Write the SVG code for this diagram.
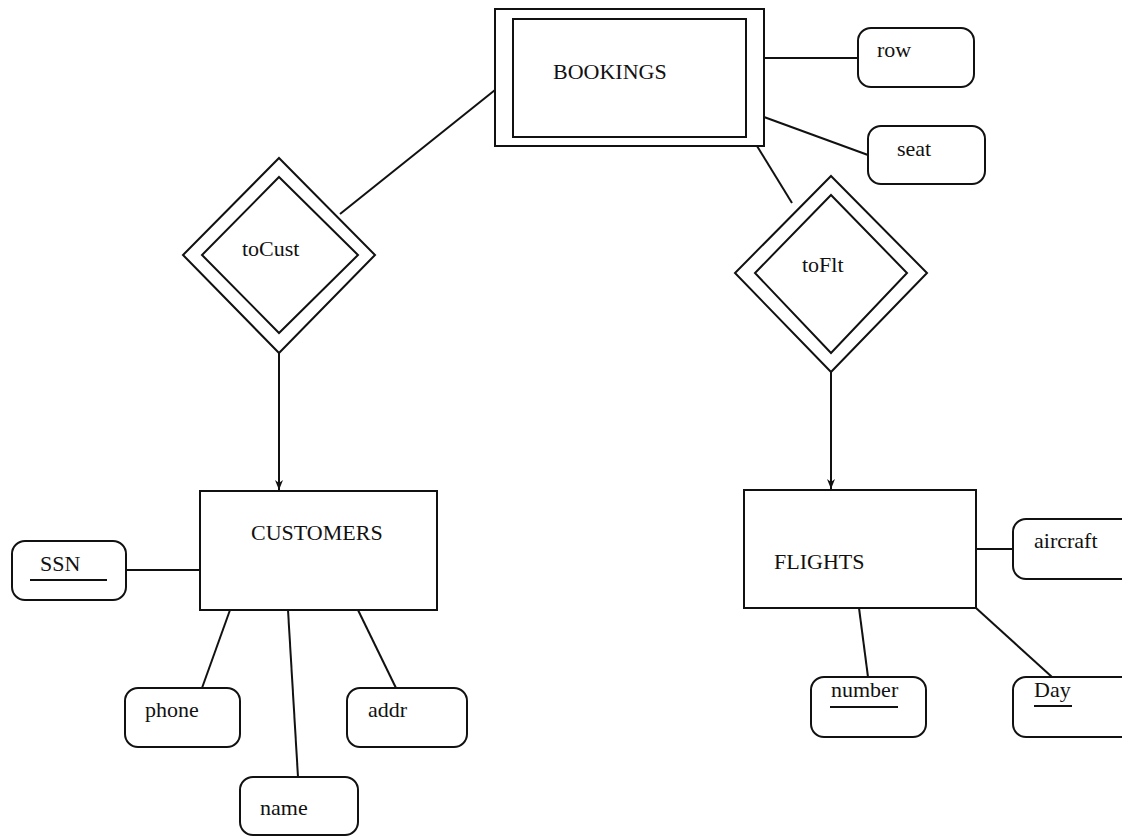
<svg xmlns="http://www.w3.org/2000/svg" width="1122" height="836" viewBox="0 0 1122 836">
<defs>
<style>
.shape{fill:none;stroke:#111;stroke-width:2}
.attr{fill:#fff;stroke:#111;stroke-width:2}
.conn line{stroke:#111;stroke-width:2}
text{font-family:"Liberation Serif","Times New Roman",serif;font-size:22px;fill:#111}
.ul{stroke:#111;stroke-width:2}
</style>
<marker id="arr" viewBox="0 0 10 10" refX="10" refY="5" markerWidth="10" markerHeight="10" markerUnits="userSpaceOnUse" orient="auto">
<path d="M0,1 L10,5 L0,9 L3,5 Z" fill="#111"/>
</marker>
</defs>
<rect width="1122" height="836" fill="#fff"/>
<g id="connectors" class="conn">
<line x1="340" y1="214" x2="495" y2="90"/>
<line x1="757" y1="146" x2="792" y2="203"/>
<line x1="764" y1="58" x2="858" y2="58"/>
<line x1="764" y1="117" x2="868" y2="155"/>
<line x1="279" y1="353" x2="279" y2="490" marker-end="url(#arr)"/>
<line x1="831" y1="372" x2="831" y2="489" marker-end="url(#arr)"/>
<line x1="126" y1="570" x2="200" y2="570"/>
<line x1="230" y1="610" x2="202" y2="688"/>
<line x1="288" y1="610" x2="298" y2="777"/>
<line x1="358" y1="610" x2="396" y2="688"/>
<line x1="976" y1="549" x2="1013" y2="549"/>
<line x1="859" y1="608" x2="868" y2="677"/>
<line x1="976" y1="608" x2="1052" y2="677"/>
</g>
<g id="bookings">
<rect class="shape" x="495" y="9" width="269" height="137"/>
<rect class="shape" x="513" y="19" width="233" height="118"/>
<text x="553" y="79">BOOKINGS</text>
</g>
<g id="row">
<rect class="attr" x="858" y="28" width="116" height="59" rx="13"/>
<text x="877" y="57">row</text>
</g>
<g id="seat">
<rect class="attr" x="868" y="126" width="117" height="58" rx="13"/>
<text x="897" y="156">seat</text>
</g>
<g id="toCust">
<polygon class="shape" points="279,158 375,255 279,353 183,255"/>
<polygon class="shape" points="279,177 358,255 279,333 202,255"/>
<text x="242" y="256">toCust</text>
</g>
<g id="toFlt">
<polygon class="shape" points="831,176 927,273 831,372 735,273"/>
<polygon class="shape" points="831,195 907,273 831,353 755,273"/>
<text x="802" y="272">toFlt</text>
</g>
<g id="customers">
<rect class="shape" x="200" y="491" width="237" height="119"/>
<text x="251" y="540">CUSTOMERS</text>
</g>
<g id="ssn">
<rect class="attr" x="12" y="541" width="114" height="59" rx="13"/>
<text x="40" y="571">SSN</text>
<line class="ul" x1="30" y1="580" x2="107" y2="580"/>
</g>
<g id="phone">
<rect class="attr" x="125" y="688" width="115" height="59" rx="13"/>
<text x="145" y="717">phone</text>
</g>
<g id="name">
<rect class="attr" x="240" y="777" width="118" height="58" rx="13"/>
<text x="260" y="815">name</text>
</g>
<g id="addr">
<rect class="attr" x="347" y="688" width="120" height="59" rx="13"/>
<text x="368" y="717">addr</text>
</g>
<g id="flights">
<rect class="shape" x="744" y="490" width="232" height="118"/>
<text x="774" y="569">FLIGHTS</text>
</g>
<g id="aircraft">
<rect class="attr" x="1013" y="519" width="125" height="60" rx="13"/>
<text x="1034" y="548">aircraft</text>
</g>
<g id="number">
<rect class="attr" x="811" y="677" width="115" height="60" rx="13"/>
<text x="831" y="697">number</text>
<line class="ul" x1="830" y1="707" x2="898" y2="707"/>
</g>
<g id="day">
<rect class="attr" x="1013" y="677" width="125" height="60" rx="13"/>
<text x="1034" y="697">Day</text>
<line class="ul" x1="1034" y1="706" x2="1072" y2="706"/>
</g>
</svg>
